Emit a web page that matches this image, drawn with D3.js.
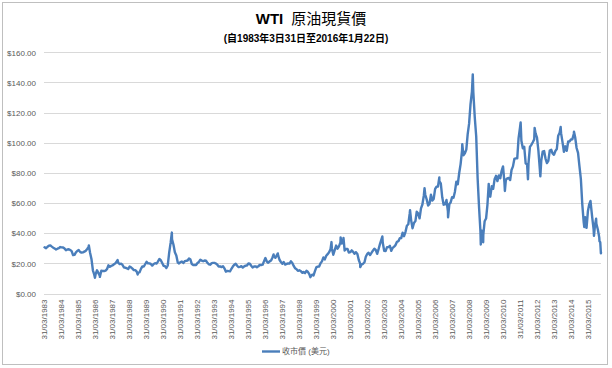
<!DOCTYPE html>
<meta charset="utf-8">
<style>

body {
  margin: 0;
  font-family: "Liberation Sans", Arial, "Noto Sans CJK TC", sans-serif;
}

.axis text {
  font: 8px "Liberation Sans", Arial, sans-serif;
  fill: #595959;
}

.axis path,
.axis line {
  display: none;
}

.grid line {
  stroke: #d9d9d9;
  stroke-width: 1;
  shape-rendering: crispEdges;
}

.grid path {
  display: none;
}

.line {
  fill: none;
  stroke: #4a7ebb;
  stroke-width: 2.4;
  stroke-linejoin: round;
}

</style>
<svg width="612" height="368"></svg>
<script src="https://cdn.jsdelivr.net/npm/d3@7"></script>
<script>

var titleMain = "原油現貨價",
    titleLead = "WTI",
    subtitle = "(自1983年3日31日至2016年1月22日)",
    legendLabel = "收市價 (美元)";

// first monthly value is April 1983, one value per month (mid-month)
var firstMonth = [1983, 3];
var monthly = [
  30.6, 30.0, 31.0, 31.7, 31.9, 31.1, 30.4, 29.8, 29.2,                   // 1983
  29.7, 30.1, 30.8, 30.6, 30.5, 29.8, 28.7, 29.2, 29.3, 28.8, 28.1, 25.4, // 1984
  25.6, 27.3, 28.2, 28.8, 27.6, 27.1, 27.3, 27.8, 28.3, 29.5, 30.8, 27.2, // 1985
  22.9, 15.4, 12.6, 12.8, 15.4, 13.5, 11.6, 15.1, 14.9, 14.9, 15.2, 16.1, // 1986
  18.7, 17.7, 18.3, 18.6, 19.4, 20.0, 21.4, 20.3, 19.5, 19.8, 18.9, 17.3, // 1987
  17.1, 16.7, 16.2, 17.9, 17.4, 16.5, 15.5, 15.5, 14.5, 13.8, 14.0, 16.3, // 1988
  18.0, 17.9, 19.4, 21.0, 20.0, 20.0, 19.6, 18.5, 19.6, 20.1, 19.8, 21.1, // 1989
  22.9, 22.1, 20.4, 18.4, 18.2, 16.9, 18.6, 27.2, 33.7, 35.9, 32.3, 27.3, // 1990
  25.2, 20.5, 19.9, 20.8, 21.2, 20.2, 21.4, 21.7, 21.9, 23.2, 22.5, 19.5, // 1991
  18.8, 19.0, 18.9, 20.2, 20.9, 22.4, 21.8, 21.4, 21.9, 21.7, 20.3, 19.4, // 1992
  19.1, 20.1, 20.3, 20.3, 19.9, 19.1, 17.9, 18.0, 17.5, 18.1, 16.7, 14.5, // 1993
  15.0, 14.8, 14.7, 16.4, 17.9, 19.1, 19.7, 18.4, 17.5, 17.7, 18.1, 17.2, // 1994
  18.0, 18.5, 18.6, 19.9, 19.7, 18.4, 17.3, 17.9, 18.0, 17.4, 18.0, 19.0, // 1995
  18.9, 19.1, 21.3, 23.5, 21.2, 20.4, 21.3, 21.9, 23.9, 24.9, 23.7, 25.2, // 1996
  25.1, 22.2, 20.9, 19.7, 20.8, 19.2, 19.6, 19.9, 19.8, 21.3, 20.2, 18.3, // 1997
  16.7, 16.1, 15.0, 15.4, 14.9, 13.7, 14.2, 13.5, 15.0, 14.4, 12.9, 11.3, // 1998
  12.5, 12.0, 14.7, 17.3, 17.8, 17.9, 20.1, 21.3, 23.9, 22.6, 25.0, 26.1, // 1999
  27.3, 29.4, 29.9, 25.7, 28.8, 31.8, 29.7, 31.2, 33.9, 33.1, 34.4, 28.5, // 2000
  29.6, 29.6, 27.2, 27.4, 28.6, 27.6, 26.4, 27.4, 26.2, 22.2, 19.6, 19.3, // 2001
  19.7, 20.7, 24.4, 26.2, 27.0, 25.5, 26.9, 28.4, 29.7, 28.9, 26.3, 29.4, // 2002
  32.9, 35.9, 33.6, 28.3, 28.1, 30.7, 30.8, 31.6, 28.3, 30.3, 31.1, 32.1, // 2003
  34.3, 34.7, 36.7, 36.7, 40.3, 38.0, 40.7, 44.9, 45.9, 53.1, 48.5, 43.3, // 2004
  46.8, 48.0, 54.3, 53.0, 49.8, 56.4, 59.0, 65.0, 65.5, 62.4, 58.3, 59.4, // 2005
  65.5, 61.6, 62.7, 69.4, 70.8, 70.9, 74.4, 73.0, 63.8, 58.9, 59.1, 62.0, // 2006
  54.5, 59.3, 60.4, 63.9, 63.5, 67.5, 74.1, 72.4, 79.9, 85.8, 94.8, 91.7, // 2007
  93.0, 95.4, 105.5, 112.6, 125.4, 133.9, 133.4, 116.7, 104.1, 76.6, 57.3, 41.1, // 2008
  41.7, 39.1, 47.9, 49.7, 59.0, 69.6, 64.2, 71.1, 69.4, 75.7, 78.0, 74.5, // 2009
  78.3, 76.4, 81.2, 84.3, 73.7, 75.3, 76.3, 76.6, 75.2, 81.9, 84.3, 89.2, // 2010
  89.6, 89.6, 102.9, 110.0, 101.3, 96.3, 97.3, 86.3, 85.5, 86.3, 97.2, 98.6, // 2011
  100.3, 102.2, 106.2, 103.3, 94.7, 82.3, 87.9, 94.1, 94.5, 89.5, 86.5, 87.9, // 2012
  94.8, 95.3, 92.9, 92.0, 94.5, 95.8, 104.6, 106.6, 106.3, 100.5, 93.9, 97.6, // 2013
  94.6, 100.8, 100.8, 102.1, 102.2, 105.8, 103.6, 96.5, 93.2, 84.4, 75.8, 59.3, // 2014
  47.2, 50.6, 47.8, 54.5, 59.3, 59.8, 50.9, 42.9, 45.5, 46.2, 42.4, 37.2  // 2015
];

// daily highs / lows that stick out of the monthly line
var spikeDates = [
  "1983-03-31", "1985-11-20", "1986-03-31", "1986-07-15", "1987-07-31",
  "1988-10-05", "1990-10-11", "1996-10-08", "1997-01-07", "1998-12-10",
  "2000-03-07", "2000-09-20", "2000-11-20", "2001-11-15", "2003-03-07",
  "2004-10-22", "2005-08-30", "2006-07-14", "2007-01-18", "2007-11-20",
  "2008-07-03", "2008-12-22", "2009-02-12", "2009-06-11", "2010-05-25",
  "2011-04-29", "2011-10-04", "2012-02-24", "2012-06-26", "2013-09-06",
  "2014-06-20", "2015-01-28", "2015-03-17", "2015-06-10", "2015-08-24",
  "2015-10-09", "2015-12-21", "2016-01-06", "2016-01-20", "2016-01-22"
];
var spikeValues = [
  30.0, 31.8, 10.4, 11.0, 22.2,
  12.6, 40.4, 25.9, 26.6, 10.8,
  34.1, 37.2, 36.9, 17.5, 37.8,
  55.2, 69.8, 77.0, 50.5, 99.0,
  145.3, 32.5, 34.0, 72.7, 68.0,
  113.4, 75.7, 109.8, 77.7, 110.5,
  107.3, 44.1, 43.5, 61.4, 38.2,
  49.6, 34.6, 34.0, 26.6, 27.5
];

var yTicks = [0, 20, 40, 60, 80, 100, 120, 140, 160];
var xTickYears = d3.range(1983, 2016);

var parse = d3.timeParse("%Y-%m-%d");

var data = monthly.map(function(v, i) {
  return {date: new Date(firstMonth[0], firstMonth[1] + i, 15), price: v};
});
spikeDates.forEach(function(d, i) {
  data.push({date: parse(d), price: spikeValues[i]});
});
data.sort(function(a, b) { return a.date - b.date; });

var svg = d3.select("svg");

// outer chart border
svg.append("rect")
    .attr("x", 2.5)
    .attr("y", 2.5)
    .attr("width", 605)
    .attr("height", 362)
    .attr("fill", "#fff")
    .attr("stroke", "#bfbfbf");

var x = d3.scaleTime()
    .domain([parse("1983-03-31"), parse("2016-01-22")])
    .range([44, 601]);

var y = d3.scaleLinear()
    .domain([0, 160])
    .range([293.5, 52.2]);

svg.append("g")
    .attr("class", "grid")
    .attr("transform", "translate(44,0)")
    .call(d3.axisLeft(y).tickValues(yTicks).tickSize(-557).tickFormat(""));

svg.append("g")
    .attr("class", "axis")
    .attr("transform", "translate(40,0)")
    .call(d3.axisLeft(y).tickValues(yTicks).tickSize(0)
        .tickFormat(function(d) { return "$" + d.toFixed(2); }))
  .selectAll("text")
    .attr("x", -4)
    .attr("dy", "0.35em");

var xAxis = svg.append("g")
    .attr("class", "axis")
    .attr("transform", "translate(0,293.5)")
    .call(d3.axisBottom(x)
        .tickValues(xTickYears.map(function(yr) { return new Date(yr, 2, 31); }))
        .tickSize(0)
        .tickFormat(d3.timeFormat("%d/%m/%Y")));

xAxis.selectAll("text")
    .attr("transform", "rotate(-90)")
    .attr("text-anchor", "end")
    .attr("x", -6)
    .attr("y", 0)
    .attr("dy", "0.35em");

svg.append("path")
    .datum(data)
    .attr("class", "line")
    .attr("d", d3.line()
        .x(function(d) { return x(d.date); })
        .y(function(d) { return y(d.price); }));

// titles
var title = svg.append("text")
    .attr("x", 311)
    .attr("y", 24)
    .attr("text-anchor", "middle")
    .style("font-size", "15px")
    .style("fill", "#000");
title.append("tspan")
    .style("font-weight", "bold")
    .style("font-family", "'Liberation Sans', Arial, sans-serif")
    .text(titleLead);
title.append("tspan")
    .attr("dx", 8)
    .style("font-family", "'Noto Sans CJK TC', sans-serif")
    .text(titleMain);

svg.append("text")
    .attr("x", 306)
    .attr("y", 42)
    .attr("text-anchor", "middle")
    .style("font-size", "10px")
    .style("font-weight", "bold")
    .style("font-family", "'Liberation Sans', 'Noto Sans CJK TC', sans-serif")
    .text(subtitle);

// legend
svg.append("line")
    .attr("x1", 262)
    .attr("x2", 280)
    .attr("y1", 351.5)
    .attr("y2", 351.5)
    .attr("stroke", "#4a7ebb")
    .attr("stroke-width", 2.4);

svg.append("text")
    .attr("x", 282)
    .attr("y", 351.5)
    .attr("dy", "0.35em")
    .style("font-size", "8px")
    .style("fill", "#595959")
    .style("font-family", "'Liberation Sans', 'Noto Sans CJK TC', sans-serif")
    .text(legendLabel);

</script>
